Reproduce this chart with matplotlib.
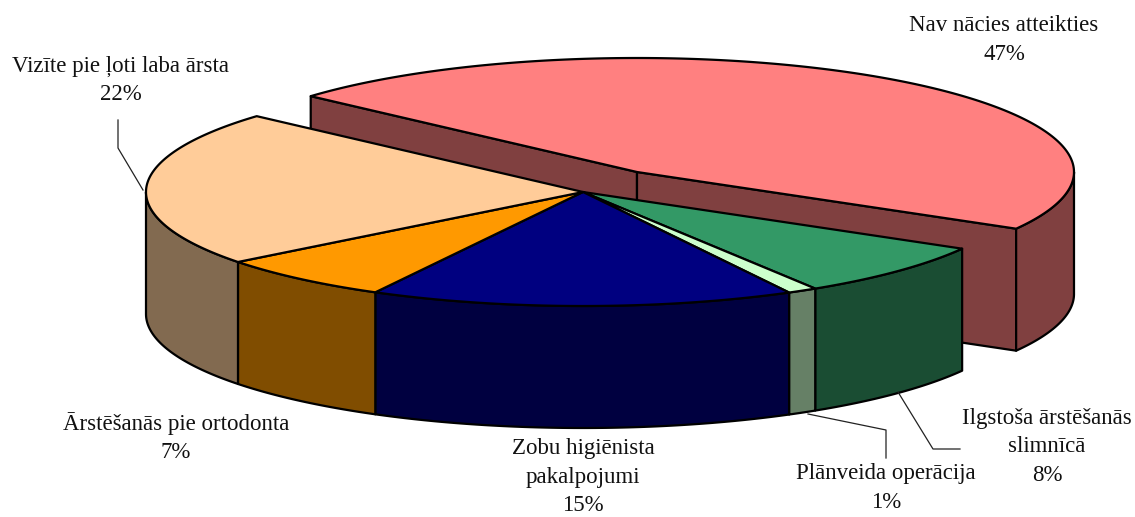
import numpy as np
import matplotlib; matplotlib.use("Agg")
import matplotlib.pyplot as plt
from matplotlib.patches import Polygon

labels=['Nav nācies atteikties\n47%','Ilgstoša ārstēšanās\nslimnīcā\n8%','Plānveida operācija\n1%',
        'Zobu higiēnista\npakalpojumi\n15%','Ārstēšanās pie ortodonta\n7%','Vizīte pie ļoti laba ārsta\n22%']
# slice shares as measured on the drawn pie (the printed labels are rounded)
values=[46.7,7.8,1.1,15.7,6.6,22.1]
tops=['#FF8080','#339966','#CCFFCC','#000080','#FF9900','#FFCC99']
sides=['#804040','#1A4D33','#668066','#000040','#804D00','#826A50']
label_xy=[(1004,40),(1047,447),(886,488),(583,477),(176,438),(121,80.5)]

cx,cy=583,192      # centre of the pie top, px
ex,ey=54,-20       # offset of the exploded slice
a,b=437,114; depth=122
start=138.3

fig=plt.figure(figsize=(11.35,5.17),dpi=100)
ax=fig.add_axes([0,0,1,1]); ax.set_xlim(0,1135); ax.set_ylim(517,0); ax.axis('off')

def pts(t,x0,y0,dy=0):
    t=np.radians(t)
    return np.column_stack([x0+a*np.cos(t),y0-b*np.sin(t)+dy])

def face(p,col,z):
    ax.add_patch(Polygon(p,closed=True,fc=col,ec='k',lw=1.6,joinstyle='round',zorder=z))

def outer_side(t0,t1,x0,y0,col,z):
    # part of the rim facing the viewer (sin<0), t0>t1 clockwise
    lo,hi=max(t1,-180),min(t0,0)
    if lo>=hi: return
    t=np.linspace(hi,lo,80)
    face(np.vstack([pts(t,x0,y0),pts(t[::-1],x0,y0,depth)]),col,z)

edges=start-np.cumsum([0]+values)*3.6
# exploded slice first, it sits behind the rest
t0,t1=edges[0],edges[1]
x0,y0=cx+ex,cy+ey
for t in (t0,t1):
    e=pts([t],x0,y0)[0]
    face([(x0,y0),e,e+(0,depth),(x0,y0+depth)],sides[0],1)
outer_side(t0,t1,x0,y0,sides[0],1)
t=np.linspace(t0,t1,200)
face(np.vstack([[(x0,y0)],pts(t,x0,y0)]),tops[0],2)

for i in range(1,len(values)):
    outer_side(edges[i],edges[i+1],cx,cy,sides[i],3)
for i in range(1,len(values)):
    t=np.linspace(edges[i],edges[i+1],120)
    face(np.vstack([[(cx,cy)],pts(t,cx,cy)]),tops[i],4)

# leader lines
for xs,ys in [((118,118,143),(120,148,190)),((898,933,960),(392,449,449)),((808,886,886),(414,430,458))]:
    ax.plot(xs,ys,color='#222222',lw=0.9,zorder=5)

for s,(x,y) in zip(labels,label_xy):
    ax.text(x,y,s,ha='center',va='center',family='Liberation Serif',fontsize=16.5,color='#111111',linespacing=1.44,zorder=6)

fig.savefig('out.png',dpi=100)
